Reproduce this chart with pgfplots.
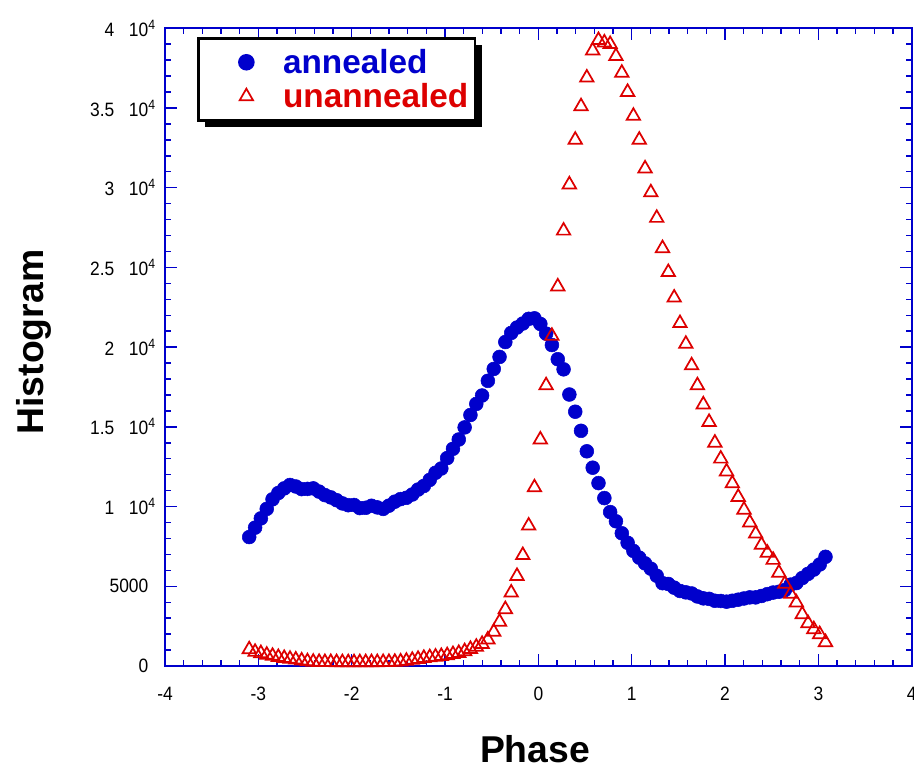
\documentclass[border=0pt]{standalone}
\usepackage{fontspec}
\setmainfont{Liberation Sans}
\newfontfamily\tickfont[FakeStretch=0.9]{Liberation Sans}
\usepackage{pgfplots}
\usepackage{pgfplotstable}
\pgfplotsset{compat=1.18}
\usetikzlibrary{shadows}

\definecolor{ablue}{RGB}{0,0,204}
\definecolor{ured}{RGB}{221,0,0}

\newcommand{\tenfour}{\hspace{11pt}10\rlap{\textsuperscript{4}}}

% phase histogram, a = annealed, u = unannealed
\pgfplotstableread{
x      a      u
-3.098 8090   1040
-3.035 8680   880
-2.973 9260   800
-2.910 9856   700
-2.848 10458  630
-2.786 10853  555
-2.723 11142  495
-2.661 11355  445
-2.599 11261  397
-2.536 11098  338
-2.474 11110  290
-2.412 11142  260
-2.349 10941  250
-2.287 10722  240
-2.224 10577  240
-2.162 10402  235
-2.100 10201  230
-2.037 10088  230
-1.975 10100  230
-1.913 9907   230
-1.850 9925   230
-1.788 10051  235
-1.726 9950   235
-1.663 9856   240
-1.601 10057  245
-1.538 10308  255
-1.476 10471  275
-1.414 10552  320
-1.351 10759  380
-1.289 11067  440
-1.227 11292  500
-1.164 11675  545
-1.102 12120  580
-1.040 12390  620
-0.977 13042  670
-0.915 13625  740
-0.853 14208  810
-0.790 14966  920
-0.728 15744  1060
-0.665 16440  1200
-0.603 16967  1380
-0.541 17888  1660
-0.478 18634  2140
-0.416 19387  2770
-0.354 20321  3560
-0.291 20892  4600
-0.229 21230  5640
-0.167 21481  6950
-0.104 21776  8800
-0.042 21807  11200
0.021  21456  14200
0.083  20848  17600
0.145  20133  20700
0.208  19243  23800
0.270  18609  27300
0.332  17029  30200
0.395  15951  33000
0.457  14753  35100
0.519  13468  36900
0.582  12440  38600
0.644  11474  39250
0.707  10534  39100
0.769  9656   39000
0.831  9079   38250
0.894  8327   37200
0.956  7731   36000
1.018  7223   34500
1.081  6797   33000
1.143  6439   31200
1.205  6107   29700
1.268  5662   28100
1.330  5198   26200
1.392  5148   24700
1.455  4916   23100
1.517  4709   21500
1.580  4621   20200
1.642  4552   18850
1.704  4364   17600
1.767  4245   16400
1.829  4213   15300
1.891  4094   14000
1.954  4082   13000
2.016  4038   12200
2.078  4094   11450
2.141  4163   10600
2.203  4238   9800
2.265  4307   9000
2.328  4307   8300
2.390  4395   7600
2.453  4508   7100
2.515  4608   6650
2.577  4659   5850
2.640  4765   5150
2.702  5104   4520
2.764  5204   3980
2.827  5518   3240
2.889  5781   2680
2.951  6051   2300
3.014  6370   1990
3.076  6850   1490
}\histdata

\begin{document}
\begin{tikzpicture}
\begin{axis}[
    name=ax,
    scale only axis,
    width=560pt, height=478.3pt,
    xmin=-4, xmax=4, ymin=0, ymax=40000,
    clip=false,
    axis line style={ablue, line width=1.5pt},
    every tick/.style={ablue, line width=1.1pt},
    major tick length=9pt, minor tick length=4.5pt,
    tick align=inside,
    xtick={-4,-3,...,4},
    xticklabels={-4,-3,-2,-1,0,1,2,3,4},
    minor x tick num=4,
    ytick={0,5000,...,40000},
    yticklabels={0,5000,
      {1\tenfour},{1.5\tenfour},{2\tenfour},{2.5\tenfour},
      {3\tenfour},{3.5\tenfour},{4\tenfour}},
    minor y tick num=4,
    scaled y ticks=false,
    tick label style={font=\tickfont\fontsize{14.5}{16}\selectfont, text=black},
    xticklabel style={yshift=-12pt},
    yticklabel style={xshift=-9pt},
    xlabel={Phase},
    ylabel={Histogram},
    label style={font=\fontsize{28}{32}\selectfont\bfseries},
    xlabel style={at={(axis description cs:0.4955,-0.131)}, anchor=center},
    ylabel style={at={(axis description cs:-0.175,0.508)}, anchor=center},
    legend image code/.code={%
        \path (-32pt,0pt) (24.5pt,0pt);
        \draw[#1] plot coordinates {(0pt,0pt)};},
    legend style={
        at={(axis description cs:0.0429,0.986)}, anchor=north west,
        draw=black, line width=2pt, fill=white,
        font=\fontsize{25}{28}\selectfont\bfseries,
        drop shadow={shadow xshift=5pt, shadow yshift=-5pt, fill=black, opacity=1},
        inner xsep=3pt, inner ysep=6pt, row sep=2pt,
        /tikz/every even column/.append style={column sep=0pt},
    },
    legend cell align=left,
]
\addplot[only marks, mark=*, mark size=5.2pt, color=ablue]
    table[x=x, y=a] {\histdata};
\addlegendentry{\textcolor{ablue}{annealed}}
\addplot[only marks, mark=triangle, mark size=5.8pt, color=ured, line width=1.3pt]
    table[x=x, y=u] {\histdata};
\addlegendentry{\textcolor{ured}{unannealed}\hspace{5pt}}
\end{axis}
\pgfresetboundingbox
\path ([xshift=-123.75pt, yshift=-75pt]ax.south west)
    rectangle ([xshift=1.7pt, yshift=21.2pt]ax.north east);
\end{tikzpicture}
\end{document}
